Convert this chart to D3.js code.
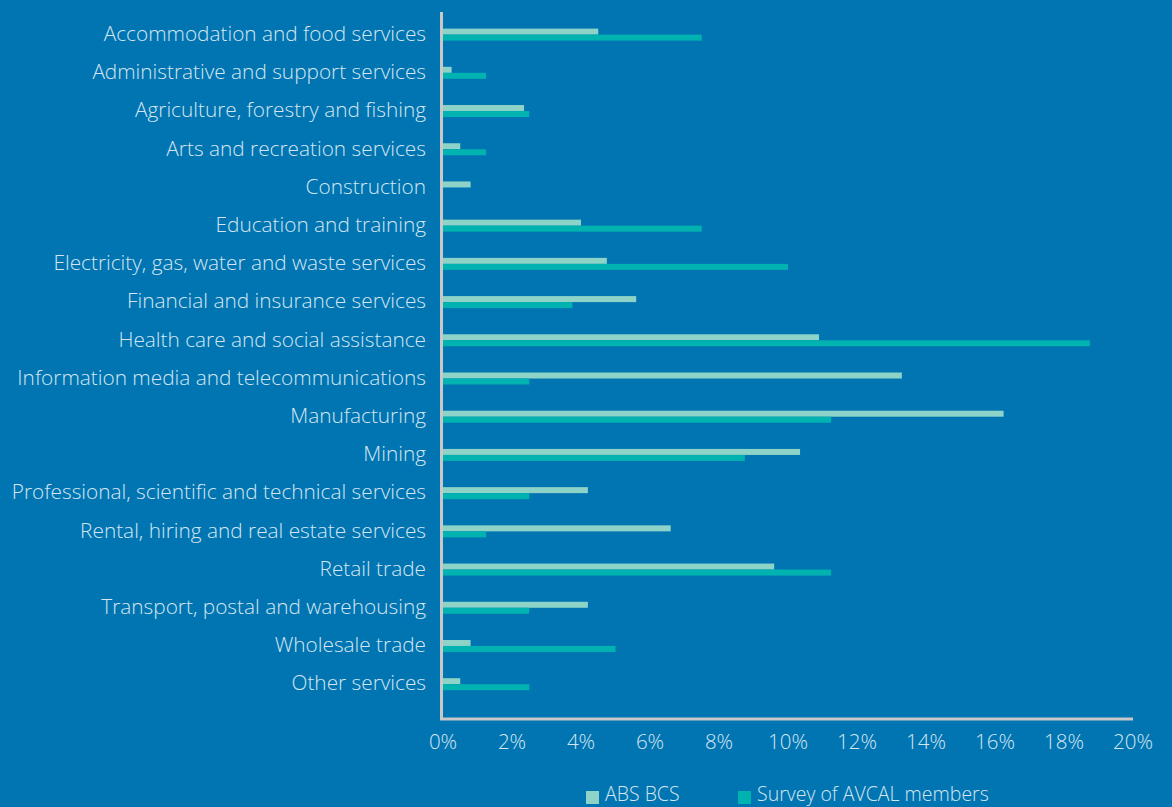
<!DOCTYPE html>
<html>
<head>
<meta charset="utf-8">
<script src="https://cdn.jsdelivr.net/npm/d3@7"></script>
<style>
  html, body { margin: 0; padding: 0; background: #0075b2; }
  svg { display: block; }
  text { font-family: "Open Sans", "Noto Sans", sans-serif; font-weight: 300; fill: #d6e6f1; }
</style>
</head>
<body>
<svg id="chart" width="1172" height="807"></svg>
<script>
// Industry categories, top to bottom
const categories = [
  "Accommodation and food services",
  "Administrative and support services",
  "Agriculture, forestry and fishing",
  "Arts and recreation services",
  "Construction",
  "Education and training",
  "Electricity, gas, water and waste services",
  "Financial and insurance services",
  "Health care and social assistance",
  "Information media and telecommunications",
  "Manufacturing",
  "Mining",
  "Professional, scientific and technical services",
  "Rental, hiring and real estate services",
  "Retail trade",
  "Transport, postal and warehousing",
  "Wholesale trade",
  "Other services"
];

// Share of businesses by industry (%)
const absBcs = [4.5, 0.25, 2.35, 0.5, 0.8, 4.0, 4.75, 5.6, 10.9, 13.3, 16.25, 10.35, 4.2, 6.6, 9.6, 4.2, 0.8, 0.5];
const avcalSurvey = [7.5, 1.25, 2.5, 1.25, 0, 7.5, 10.0, 3.75, 18.75, 2.5, 11.25, 8.75, 2.5, 1.25, 11.25, 2.5, 5.0, 2.5];

const seriesNames = ["ABS BCS", "Survey of AVCAL members"];
const xTicks = [0, 2, 4, 6, 8, 10, 12, 14, 16, 18, 20];

const colors = ["#8dd3c7", "#00b2b0"];

const svg = d3.select("#chart");

const x = d3.scaleLinear().domain([0, 20]).range([443, 1133]);
const y = d3.scaleBand().domain(categories).range([15.5, 703.3]);
const barH = 6;

const rows = categories.map((c, i) => ({ cat: c, vals: [absBcs[i], avcalSurvey[i]] }));

// paired bars, one per series, stacked vertically within each band
const g = svg.append("g");
rows.forEach(r => {
  const cy = y(r.cat) + y.bandwidth() / 2;
  r.vals.forEach((v, k) => {
    if (v <= 0) return;
    g.append("rect")
      .attr("x", x(0))
      .attr("y", cy - barH + k * barH)
      .attr("width", x(v) - x(0))
      .attr("height", barH)
      .attr("fill", colors[k]);
  });
});

// category labels
svg.append("g").selectAll("text")
  .data(categories)
  .join("text")
  .attr("x", 426)
  .attr("y", d => y(d) + y.bandwidth() / 2 - 1)
  .attr("dy", "0.35em")
  .attr("text-anchor", "end")
  .attr("font-size", 20.8)
  .text(d => d);

// axis lines
svg.append("line")
  .attr("x1", 441.5).attr("x2", 441.5)
  .attr("y1", 12).attr("y2", 720)
  .attr("stroke", "#c8c8c8").attr("stroke-width", 3);
svg.append("line")
  .attr("x1", 440).attr("x2", 1133)
  .attr("y1", 719).attr("y2", 719)
  .attr("stroke", "#c8c8c8").attr("stroke-width", 3);

// x tick labels
svg.append("g").selectAll("text")
  .data(xTicks)
  .join("text")
  .attr("x", d => x(d))
  .attr("y", 742)
  .attr("dy", "0.35em")
  .attr("text-anchor", "middle")
  .attr("font-size", 20.5)
  .text(d => d + "%");

// legend
const legendX = [586, 738];
seriesNames.forEach((name, k) => {
  svg.append("rect")
    .attr("x", legendX[k]).attr("y", 791)
    .attr("width", 13).attr("height", 13)
    .attr("fill", colors[k]);
  svg.append("text")
    .attr("x", legendX[k] + 19)
    .attr("y", 801)
    .attr("font-size", 19.5)
    .text(name);
});
</script>
</body>
</html>
